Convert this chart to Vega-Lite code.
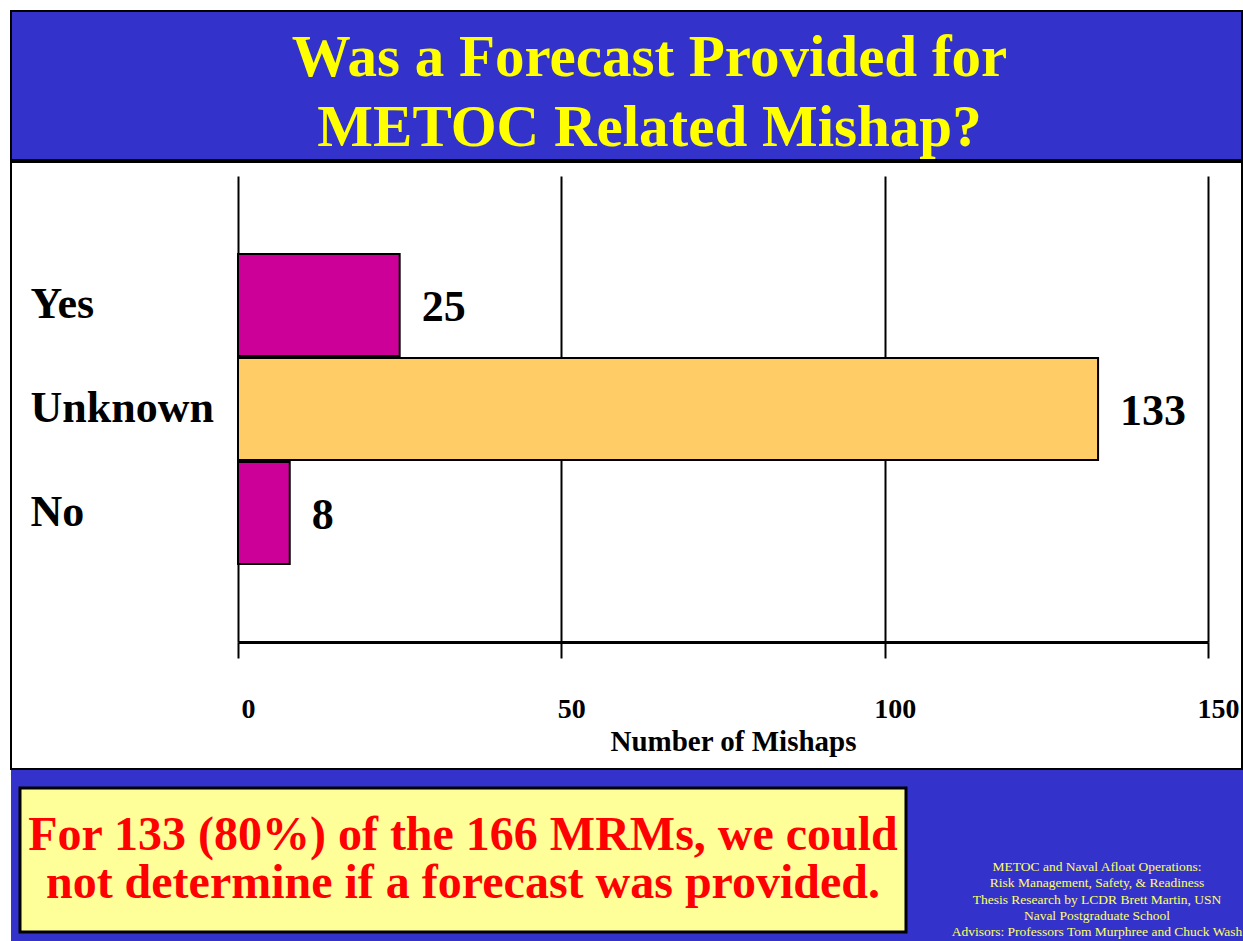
{
  "$schema": "https://vega.github.io/schema/vega-lite/v6.json",
  "background": "white",
  "padding": {"left": 10, "top": 10, "right": 0, "bottom": 0},
  "spacing": 0,
  "config": {"font": "Liberation Serif"},
  "vconcat": [
    {
      "width": 1231,
      "height": 149,
      "view": {"fill": "#3333CC", "stroke": "black", "strokeWidth": 2},
      "data": {"values": [{"t": "Was a Forecast Provided for\nMETOC Related Mishap?"}]},
      "mark": {"type": "text", "lineBreak": "\n", "font": "Liberation Serif", "fontSize": 59, "fontWeight": "bold", "color": "#FFFF00", "align": "center", "baseline": "alphabetic", "lineHeight": 70, "dx": 23, "dy": -10},
      "encoding": {"text": {"field": "t"}}
    },
    {
      "width": 1231,
      "height": 607,
      "view": {"fill": "white", "stroke": "black", "strokeWidth": 2},
      "data": {"values": [
        {"answer": "Yes", "mishaps": 25},
        {"answer": "Unknown", "mishaps": 133},
        {"answer": "No", "mishaps": 8}
      ]},
      "encoding": {
        "y": {
          "field": "answer", "type": "nominal", "sort": ["Yes", "Unknown", "No"],
          "scale": {"range": [14, 480], "paddingInner": 0.02, "paddingOuter": 0.75},
          "axis": {"title": null, "domain": false, "ticks": false, "tickSize": 0, "grid": false, "labelAlign": "left", "labelPadding": -19, "labelFontSize": 44, "labelFontWeight": "bold", "labelColor": "black", "labelBaseline": "middle", "labelLimit": 500}
        }
      },
      "resolve": {"axis": {"x": "independent"}},
      "layer": [
        {
          "mark": {"type": "bar", "stroke": "black", "strokeWidth": 2},
          "encoding": {
            "x": {
              "field": "mishaps", "type": "quantitative",
              "scale": {"domain": [0, 150], "range": [227, 1197], "nice": false},
              "axis": {"orient": "top", "values": [0, 50, 100, 150], "title": null, "offset": 0, "domain": false, "ticks": false, "labels": false, "grid": true, "gridColor": "black", "gridWidth": 2, "gridOpacity": 1}
            },
            "color": {"field": "answer", "type": "nominal", "scale": {"domain": ["Yes", "Unknown", "No"], "range": ["#CC0099", "#FFCC66", "#CC0099"]}, "legend": null}
          }
        },
        {
          "mark": {"type": "text", "align": "left", "baseline": "middle", "dx": 22, "dy": 3, "fontSize": 44, "fontWeight": "bold", "color": "black"},
          "encoding": {
            "x": {
              "field": "mishaps", "type": "quantitative",
              "axis": {
                "orient": "bottom", "values": [0, 50, 100, 150], "title": "Number of Mishaps", "offset": -127,
                "domain": true, "domainColor": "black", "domainWidth": 3,
                "ticks": true, "tickColor": "black", "tickWidth": 2, "tickSize": 16,
                "grid": false,
                "labelFontSize": 28, "labelFontWeight": "bold", "labelColor": "black", "labelBaseline": "alphabetic", "labelPadding": 59, "labelOffset": 10, "labelFlush": false,
                "titleFontSize": 29, "titleFontWeight": "bold", "titleColor": "black", "titleBaseline": "alphabetic", "titleAlign": "center", "titleX": 722, "titleY": 108
              }
            },
            "text": {"field": "mishaps", "type": "quantitative"}
          }
        }
      ]
    },
    {
      "width": 1232,
      "height": 171,
      "view": {"fill": "#3333CC", "stroke": null},
      "layer": [
        {
          "data": {"values": [{"part": "note", "msg": "For 133 (80%) of the 166 MRMs, we could\nnot determine if a forecast was provided."}]},
          "encoding": {
            "x": {"field": "part", "type": "nominal", "axis": null, "scale": {"paddingInner": 0, "paddingOuter": 0.19526, "align": 0.026}},
            "y": {"field": "part", "type": "nominal", "axis": null, "scale": {"paddingInner": 0, "paddingOuter": 0.09375, "align": 0.6667}}
          },
          "layer": [
            {"mark": {"type": "rect", "fill": "#FFFF99", "stroke": "black", "strokeWidth": 3}},
            {
              "mark": {"type": "text", "lineBreak": "\n", "fontSize": 48, "fontWeight": "bold", "color": "#FF0000", "align": "center", "baseline": "middle", "lineHeight": 48, "dy": -24},
              "encoding": {"text": {"field": "msg"}}
            }
          ]
        },
        {
          "data": {"values": [{"credits": "METOC and Naval Afloat Operations:\nRisk Management, Safety, & Readiness\nThesis Research by LCDR Brett Martin, USN\nNaval Postgraduate School\nAdvisors: Professors Tom Murphree and Chuck Wash"}]},
          "mark": {"type": "text", "lineBreak": "\n", "fontSize": 13.5, "color": "#FFFF66", "align": "center", "baseline": "middle", "lineHeight": 16.3, "dx": 470, "dy": 11.5, "clip": true},
          "encoding": {"text": {"field": "credits"}}
        }
      ]
    }
  ]
}
